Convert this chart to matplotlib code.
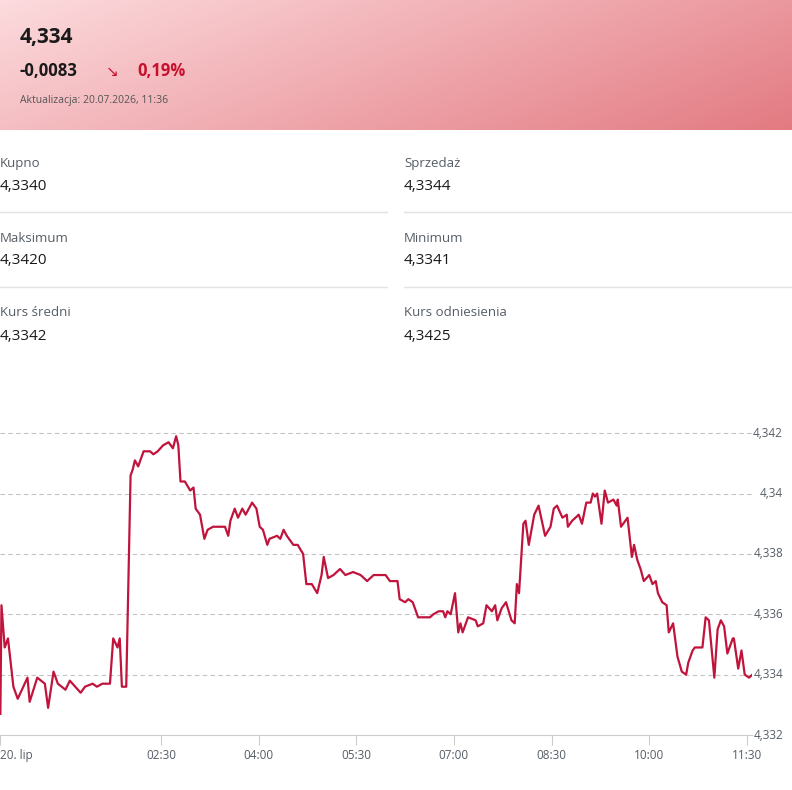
import numpy as np
import matplotlib.pyplot as plt

plt.rcParams['font.family'] = ['Open Sans', 'DejaVu Sans']

# minutes after midnight, EUR/PLN rate
minutes = [2, 3, 6, 9, 14, 18, 27, 29, 36, 43, 46, 51, 55, 62, 66, 76, 80, 87, 91, 96,
           103, 106, 110, 112, 114, 118, 122, 124, 126, 129, 134, 140, 143, 147, 152, 157,
           161, 164, 166, 168, 172, 177, 180, 182, 186, 190, 193, 198, 209, 212, 214, 218,
           221, 225, 228, 234, 238, 241, 244, 248, 250, 257, 260, 263, 266, 272, 276, 281,
           284, 289, 294, 298, 300, 304, 309, 315, 320, 327, 334, 340, 346, 357, 361, 368,
           370, 375, 378, 382, 387, 398, 401, 406, 410, 412, 414, 417, 421, 424, 426, 428,
           433, 440, 442, 447, 450, 455, 458, 460, 464, 468, 473, 476, 478, 480, 484, 486,
           489, 494, 498, 504, 509, 512, 515, 520, 524, 525, 529, 535, 538, 542, 546, 548,
           550, 552, 556, 559, 562, 567, 570, 571, 574, 580, 584, 586, 589, 592, 595, 600,
           603, 606, 608, 612, 616, 618, 622, 626, 630, 634, 636, 640, 642, 649, 652, 655,
           660, 663, 666, 669, 672, 677, 678, 682, 685, 688, 692, 695]
rates = [4.3327, 4.3363, 4.3349, 4.3352, 4.3336, 4.3332, 4.3339, 4.3331, 4.3339, 4.3337,
         4.3329, 4.3341, 4.3337, 4.3335, 4.3338, 4.3334, 4.3336, 4.3337, 4.3336, 4.3337,
         4.3337, 4.3352, 4.3349, 4.3352, 4.3336, 4.3336, 4.3406, 4.3408, 4.3411, 4.3409,
         4.3414, 4.3414, 4.3413, 4.3414, 4.3416, 4.3417, 4.3415, 4.3419, 4.3416, 4.3404,
         4.3404, 4.3401, 4.3402, 4.3395, 4.3393, 4.3385, 4.3388, 4.3389, 4.3389, 4.3386,
         4.3391, 4.3395, 4.3392, 4.3395, 4.3393, 4.3397, 4.3395, 4.3389, 4.3388, 4.3383,
         4.3385, 4.3386, 4.3385, 4.3388, 4.3386, 4.3383, 4.3383, 4.3380, 4.3370, 4.3370,
         4.3367, 4.3373, 4.3379, 4.3372, 4.3373, 4.3375, 4.3373, 4.3374, 4.3373, 4.3371,
         4.3373, 4.3373, 4.3371, 4.3371, 4.3365, 4.3364, 4.3365, 4.3364, 4.3359, 4.3359,
         4.3360, 4.3361, 4.3361, 4.3359, 4.3361, 4.3360, 4.3367, 4.3354, 4.3357, 4.3354,
         4.3359, 4.3358, 4.3356, 4.3357, 4.3363, 4.3361, 4.3363, 4.3358, 4.3362, 4.3364,
         4.3358, 4.3357, 4.3370, 4.3367, 4.3390, 4.3391, 4.3383, 4.3393, 4.3396, 4.3386,
         4.3389, 4.3395, 4.3396, 4.3392, 4.3393, 4.3389, 4.3391, 4.3393, 4.3390, 4.3397,
         4.3397, 4.3400, 4.3399, 4.3400, 4.3390, 4.3401, 4.3397, 4.3398, 4.3396, 4.3398,
         4.3389, 4.3392, 4.3379, 4.3383, 4.3378, 4.3375, 4.3371, 4.3373, 4.3370, 4.3371,
         4.3367, 4.3364, 4.3363, 4.3354, 4.3357, 4.3346, 4.3341, 4.3340, 4.3344, 4.3348,
         4.3349, 4.3349, 4.3359, 4.3358, 4.3339, 4.3355, 4.3358, 4.3356, 4.3347, 4.3352,
         4.3352, 4.3342, 4.3348, 4.3340, 4.3339, 4.3340]

y_ticks = [4.332, 4.334, 4.336, 4.338, 4.340, 4.342]
y_labels = ['4,332', '4,334', '4,336', '4,338', '4,34', '4,342']
x_ticks = [150, 240, 330, 420, 510, 600, 690]
x_labels = ['02:30', '04:00', '05:30', '07:00', '08:30', '10:00', '11:30']

stats = [('Kupno', '4,3340'), ('Sprzedaż', '4,3344'),
         ('Maksimum', '4,3420'), ('Minimum', '4,3341'),
         ('Kurs średni', '4,3342'), ('Kurs odniesienia', '4,3425')]

W, H = 792, 790
fig = plt.figure(figsize=(W / 100, H / 100), dpi=100)

# header band with gradient
hdr = fig.add_axes([0, 1 - 130 / H, 1, 130 / H])
gx = np.linspace(0, 1, 300)
gy = np.linspace(0, 1, 60)
GX, GY = np.meshgrid(gx, gy)
t = np.clip(0.7 * GX + 0.3 * (1 - GY), 0, 1)
c0 = np.array([0.99, 0.86, 0.87])
c1 = np.array([0.89, 0.48, 0.51])
img = c0[None, None, :] * (1 - t[..., None]) + c1[None, None, :] * t[..., None]
hdr.imshow(img, aspect='auto', extent=[0, 1, 0, 1], origin='lower')
hdr.axis('off')


def ftext(x, y, s, **kw):
    fig.text(x / W, 1 - y / H, s, va='center', **kw)


ftext(20, 38, '4,334', fontsize=15, fontweight='bold', color='#1a1a1a')
ftext(20, 71, '-0,0083', fontsize=12, fontweight='bold', color='#1a1a1a')
ftext(106, 71, '↘', fontsize=11, color='#c8102e', family='DejaVu Sans')
ftext(137, 71, '0,19%', fontsize=12, fontweight='bold', color='#c8102e')
ftext(20, 101, 'Aktualizacja: 20.07.2026, 11:36', fontsize=7.5, color='#555555')

for i, (lab, val) in enumerate(stats):
    col, row = i % 2, i // 2
    x0 = 0 if col == 0 else 404
    y0 = 163 + row * 75
    ftext(x0, y0, lab, fontsize=9.5, color='#555d66')
    ftext(x0, y0 + 23, val, fontsize=11, color='#1a1a1a')
    if row < 2:
        x_end = 387 if col == 0 else 792
        fig.add_artist(plt.Line2D([x0 / W, x_end / W], [1 - (y0 + 49) / H] * 2,
                                  color='#e3e3e3', lw=1))

# chart
ax = fig.add_axes([0, 1 - 735 / H, 752 / W, 335 / H])
ax.plot(minutes, rates, color='#c0143c', lw=1.6)
ax.set_xlim(1.66, 694.7)
ax.set_ylim(4.332, 4.3431)
for yt, yl in zip(y_ticks, y_labels):
    if yt > 4.332:
        ax.axhline(yt, color='#c4c4c4', lw=0.8, ls=(0, (4, 3)), zorder=0)
    ax.text(783 / 752, yt, yl, transform=ax.get_yaxis_transform(), ha='right',
            va='center', fontsize=8.5, color='#555d66', clip_on=False)
for s in ['top', 'right', 'left']:
    ax.spines[s].set_visible(False)
ax.spines['bottom'].set_color('#cccccc')
ax.set_yticks([])
ax.set_xticks([1.66] + x_ticks)
ax.set_xticklabels(['20. lip'] + x_labels, fontsize=8.5, color='#555d66')
ax.get_xticklabels()[0].set_horizontalalignment('left')
ax.tick_params(axis='x', length=7, color='#cccccc', pad=3)

fig.savefig('out.png', dpi=100)
